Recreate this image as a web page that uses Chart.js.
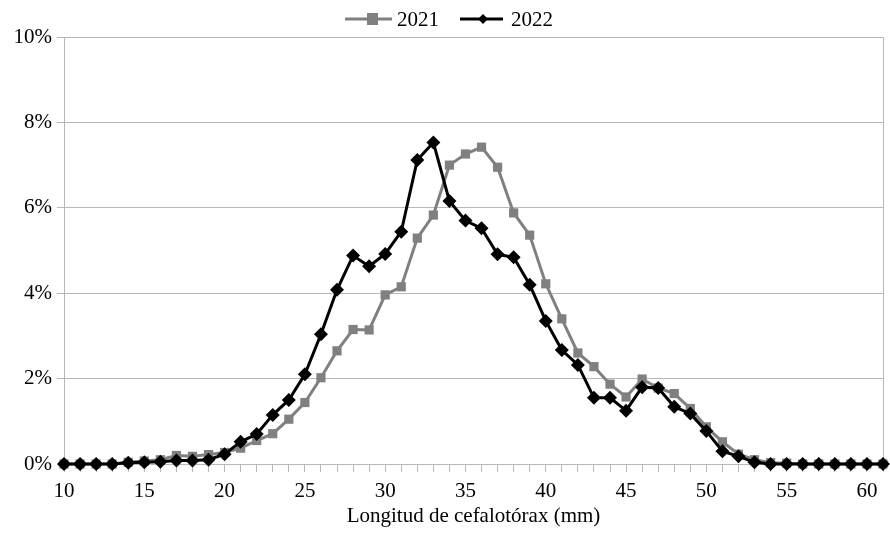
<!DOCTYPE html>
<html>
<head>
<meta charset="utf-8">
<script src="https://cdn.jsdelivr.net/npm/chart.js@4.4.1/dist/chart.umd.min.js"></script>
<style>
  html, body { margin: 0; padding: 0; background: #fff; }
  #wrap { width: 890px; height: 535px; position: relative; }
</style>
</head>
<body>
<div id="wrap"><canvas id="lengthChart"></canvas></div>
<script>
// categories: cephalothorax length (mm)
const lengths = [10, 11, 12, 13, 14, 15, 16, 17, 18, 19,
                 20, 21, 22, 23, 24, 25, 26, 27, 28, 29,
                 30, 31, 32, 33, 34, 35, 36, 37, 38, 39,
                 40, 41, 42, 43, 44, 45, 46, 47, 48, 49,
                 50, 51, 52, 53, 54, 55, 56, 57, 58, 59,
                 60, 61];
// frequencies in %
const values2021 = [0, 0, 0, 0, 0.04, 0.07, 0.1, 0.2, 0.18, 0.22,
                    0.27, 0.37, 0.55, 0.71, 1.05, 1.44, 2.02, 2.65, 3.15, 3.14,
                    3.96, 4.15, 5.29, 5.83, 7.0, 7.26, 7.42, 6.95, 5.88, 5.36,
                    4.22, 3.4, 2.6, 2.28, 1.87, 1.57, 1.99, 1.78, 1.65, 1.3,
                    0.87, 0.52, 0.23, 0.1, 0.03, 0.02, 0, 0, 0, 0,
                    0, 0];
const values2022 = [0, 0, 0, 0, 0.03, 0.04, 0.05, 0.08, 0.08, 0.1,
                    0.23, 0.52, 0.7, 1.15, 1.5, 2.1, 3.04, 4.08, 4.88, 4.63,
                    4.92, 5.44, 7.12, 7.53, 6.16, 5.7, 5.52, 4.91, 4.84, 4.2,
                    3.35, 2.67, 2.32, 1.55, 1.55, 1.25, 1.8, 1.78, 1.34, 1.18,
                    0.77, 0.3, 0.18, 0.04, 0, 0, 0, 0, 0, 0,
                    0, 0];
const yTicks = [0, 2, 4, 6, 8, 10];
const seriesNames = ['2021', '2022'];
const xTitle = 'Longitud de cefalotórax (mm)';

const GRID = '#b8b8b8';
const FONT = "'Liberation Serif', 'Times New Roman', serif";

// legend with line + marker, drawn by hand
const lineLegend = {
    id: 'lineLegend',
    afterDraw(chart) {
        const ctx = chart.ctx;
        const y = 19;
        ctx.save();
        // 2021
        ctx.strokeStyle = '#808080';
        ctx.lineWidth = 3;
        ctx.beginPath(); ctx.moveTo(345, y); ctx.lineTo(392, y); ctx.stroke();
        ctx.fillStyle = '#808080';
        ctx.fillRect(367, y - 6, 11, 12);
        // 2022
        ctx.strokeStyle = '#000';
        ctx.beginPath(); ctx.moveTo(460, y); ctx.lineTo(503, y); ctx.stroke();
        ctx.fillStyle = '#000';
        ctx.beginPath();
        ctx.moveTo(483, y - 5); ctx.lineTo(488, y); ctx.lineTo(483, y + 5); ctx.lineTo(478, y);
        ctx.closePath(); ctx.fill();
        // labels
        ctx.font = '21px ' + FONT;
        ctx.textBaseline = 'middle';
        ctx.textAlign = 'left';
        ctx.fillStyle = '#000';
        ctx.fillText(seriesNames[0], 397, y + 1);
        ctx.fillText(seriesNames[1], 511, y + 1);
        ctx.restore();
    }
};

const lengthChart = new Chart(document.getElementById('lengthChart'), {
    type: 'line',
    data: {
        labels: lengths,
        datasets: [{
            label: seriesNames[0],
            data: values2021,
            borderColor: '#808080',
            backgroundColor: '#808080',
            borderWidth: 3,
            pointStyle: 'rect',
            pointRadius: 6.5,
            pointBorderWidth: 0,
            tension: 0,
            clip: false,
            order: 1
        }, {
            label: seriesNames[1],
            data: values2022,
            borderColor: '#000',
            backgroundColor: '#000',
            borderWidth: 3,
            pointStyle: 'rectRot',
            pointRadius: 7,
            pointBorderWidth: 0,
            tension: 0,
            clip: false,
            order: 0
        }]
    },
    options: {
        responsive: true,
        maintainAspectRatio: false,
        animation: false,
        layout: { padding: { top: 37, right: 4, left: 0, bottom: 0 } },
        plugins: {
            legend: { display: false },
            tooltip: { enabled: false }
        },
        scales: {
            x: {
                type: 'category',
                offset: false,
                grid: {
                    drawOnChartArea: true,
                    color: (c) => c.index === lengths.length - 1 ? GRID : 'rgba(0,0,0,0)',
                    tickColor: GRID,
                    tickLength: 8,
                    lineWidth: 1
                },
                border: { color: GRID, width: 1 },
                ticks: {
                    autoSkip: false,
                    maxRotation: 0,
                    minRotation: 0,
                    padding: 7,
                    color: '#000',
                    font: { family: FONT, size: 21 },
                    callback: function(value, index) {
                        const v = lengths[index];
                        return v % 5 === 0 ? String(v) : '';
                    }
                },
                title: {
                    display: true,
                    text: xTitle,
                    color: '#000',
                    font: { family: FONT, size: 21 },
                    padding: { top: 0, bottom: 6 }
                },
                afterFit: (scale) => { scale.height = 71; }
            },
            y: {
                min: 0,
                max: 10,
                afterBuildTicks: (scale) => { scale.ticks = yTicks.map(v => ({ value: v })); },
                grid: { color: GRID, tickColor: GRID, tickLength: 7, lineWidth: 1 },
                border: { color: GRID, width: 1 },
                ticks: {
                    padding: 5,
                    color: '#000',
                    font: { family: FONT, size: 21 },
                    callback: (v) => v + '%'
                },
                afterFit: (scale) => { scale.width = 64; }
            }
        }
    },
    plugins: [lineLegend]
});
</script>
</body>
</html>
